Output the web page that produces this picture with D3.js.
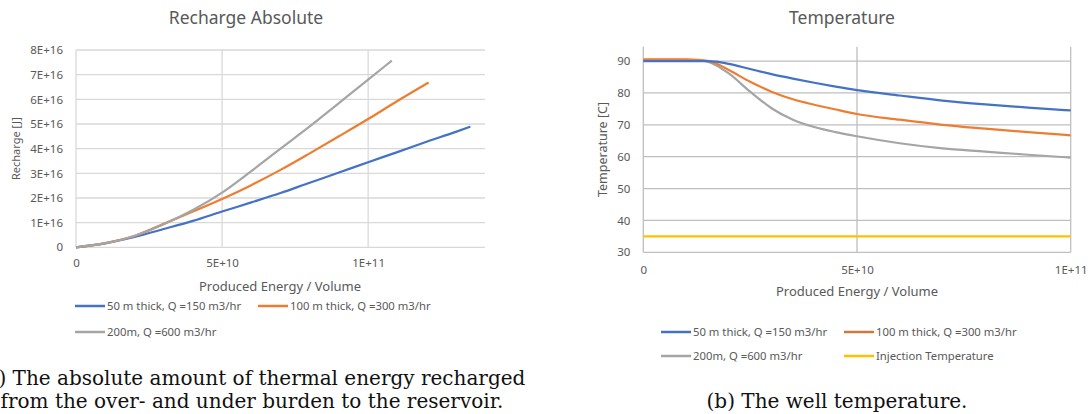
<!DOCTYPE html>
<html>
<head>
<meta charset="utf-8">
<script src="https://cdn.jsdelivr.net/npm/d3@7"></script>
<style>
  body { margin: 0; background: #fff; }
  svg { display: block; font-family: "Noto Sans", sans-serif; }
</style>
</head>
<body>
<svg id="fig" width="1090" height="414"></svg>
<script>
// ---- data ----
const seriesNames = ["50 m thick, Q =150 m3/hr", "100 m thick, Q =300 m3/hr", "200m, Q =600 m3/hr"];
const injectionName = "Injection Temperature";

// (a) recharge [J] vs produced energy / volume
const rechargeX50 = [0, 1e10, 2e10, 3e10, 4e10, 5e10, 6e10, 7e10, 8e10, 9e10, 1e11, 1.1e11, 1.2e11, 1.3e11, 1.35e11];
const rechargeY50 = [0, 0.16e16, 0.42e16, 0.74e16, 1.07e16, 1.45e16, 1.82e16, 2.2e16, 2.62e16, 3.03e16, 3.45e16, 3.86e16, 4.28e16, 4.68e16, 4.89e16];
const rechargeX100 = [0, 1e10, 2e10, 3e10, 4e10, 5e10, 6e10, 7e10, 8e10, 9e10, 1e11, 1.1e11, 1.207e11];
const rechargeY100 = [0, 0.17e16, 0.46e16, 0.95e16, 1.45e16, 1.96e16, 2.52e16, 3.14e16, 3.81e16, 4.5e16, 5.2e16, 5.93e16, 6.68e16];
const rechargeX200 = [0, 1e10, 2e10, 3e10, 4e10, 5e10, 6e10, 7e10, 8e10, 9e10, 1e11, 1.081e11];
const rechargeY200 = [0, 0.17e16, 0.46e16, 0.93e16, 1.51e16, 2.22e16, 3.09e16, 4.0e16, 4.9e16, 5.85e16, 6.8e16, 7.57e16];

// (b) well temperature [C]
const tempX = [0, 0.5e10, 1e10, 1.3e10, 1.5e10, 1.7e10, 2e10, 2.5e10, 3e10, 3.5e10, 4e10, 4.5e10, 5e10, 6e10, 7e10, 8e10, 9e10, 1e11];
const temp50 = [90, 90, 90, 90, 90, 89.8, 89.1, 87.5, 85.9, 84.5, 83.2, 82, 80.9, 79.2, 77.6, 76.4, 75.4, 74.5];
const temp100 = [90.5, 90.5, 90.5, 90.4, 90.1, 89.2, 87.2, 83.5, 80.4, 78, 76.3, 74.8, 73.4, 71.6, 70, 68.8, 67.7, 66.7];
const temp200 = [90.4, 90.4, 90.4, 90.2, 89.8, 88.7, 86.1, 80.4, 75.2, 71.6, 69.3, 67.7, 66.4, 64.2, 62.6, 61.6, 60.6, 59.7];
const tempInjection = [35, 35, 35, 35, 35, 35, 35, 35, 35, 35, 35, 35, 35, 35, 35, 35, 35, 35];

const rechargeYTicks = [0, 1e16, 2e16, 3e16, 4e16, 5e16, 6e16, 7e16, 8e16];
const rechargeXTicks = [0, 5e10, 1e11];
const tempYTicks = [30, 40, 50, 60, 70, 80, 90];
const tempXTicks = [0, 5e10, 1e11];

const colors = ["#4472C4", "#ED7D31", "#A5A5A5", "#FFC000"];
const textColor = "#595959";

const svg = d3.select("#fig");
const sci = d => d === 0 ? "0" : d3.format(".0e")(d).toUpperCase();

function zip(xs, ys) { return xs.map((x, i) => ({ x: x, y: ys[i] })); }

function panel(opt) {
    const g = svg.append("g");
    const x = d3.scaleLinear().domain(opt.xDomain).range([opt.left, opt.right]);
    const y = d3.scaleLinear().domain(opt.yDomain).range([opt.bottom, opt.top]);

    // horizontal grid
    g.selectAll(".hg").data(opt.yTicks).enter().append("line")
        .attr("x1", opt.left).attr("x2", opt.right)
        .attr("y1", d => y(d)).attr("y2", d => y(d))
        .attr("stroke", opt.grid).attr("stroke-width", 1.3);
    // vertical grid
    g.selectAll(".vg").data(opt.xTicks).enter().append("line")
        .attr("x1", d => x(d)).attr("x2", d => x(d))
        .attr("y1", opt.top).attr("y2", opt.bottom)
        .attr("stroke", opt.grid).attr("stroke-width", 1.3);

    // tick labels through d3 axes, axis lines hidden
    const yAxis = g.append("g").attr("transform", `translate(${opt.left},0)`)
        .call(d3.axisLeft(y).tickValues(opt.yTicks).tickFormat(opt.yFormat).tickSize(0).tickPadding(opt.yPad));
    const xAxis = g.append("g").attr("transform", `translate(0,${opt.bottom})`)
        .call(d3.axisBottom(x).tickValues(opt.xTicks).tickFormat(sci).tickSize(0).tickPadding(opt.xPad));
    [yAxis, xAxis].forEach(a => {
        a.select(".domain").remove();
        a.selectAll("text").attr("fill", textColor).style("font-size", "11.5px")
            .style("font-family", "'Noto Sans', sans-serif");
    });

    const line = d3.line().x(d => x(d.x)).y(d => y(d.y)).curve(d3.curveMonotoneX);
    g.selectAll(".series").data(opt.series).enter().append("path")
        .attr("d", d => line(d.values))
        .attr("fill", "none")
        .attr("stroke", d => d.color)
        .attr("stroke-width", 2.2);

    // titles
    g.append("text").attr("x", opt.titleX).attr("y", 24).attr("text-anchor", "middle")
        .attr("fill", textColor).style("font-size", "17.5px").text(opt.title);
    g.append("text").attr("x", opt.xTitleX).attr("y", opt.xTitleY).attr("text-anchor", "middle")
        .attr("fill", textColor).style("font-size", "13px").text("Produced Energy / Volume");
    g.append("text").attr("transform", `translate(${opt.yTitleX},${(opt.top + opt.bottom) / 2}) rotate(-90)`)
        .attr("text-anchor", "middle").attr("fill", textColor)
        .style("font-size", opt.yTitleSize).text(opt.yTitle);

    // legend
    const leg = g.selectAll(".leg").data(opt.legend).enter().append("g")
        .attr("transform", d => `translate(${d.x},${d.y})`);
    leg.append("line").attr("x1", 0).attr("x2", 30).attr("y1", 0).attr("y2", 0)
        .attr("stroke", d => d.color).attr("stroke-width", 2.5);
    leg.append("text").attr("x", 32).attr("y", 4).attr("fill", textColor)
        .style("font-size", "11.3px").text(d => d.name);
}

panel({
    left: 76, right: 485, top: 50, bottom: 247.3,
    xDomain: [0, 1.4e11], yDomain: [0, 8e16],
    xTicks: rechargeXTicks, yTicks: rechargeYTicks, yFormat: sci,
    yPad: 13, xPad: 12, grid: "#d9d9d9",
    title: "Recharge Absolute", titleX: 246,
    xTitleX: 280, xTitleY: 291, yTitle: "Recharge [J]", yTitleX: 20, yTitleSize: "11px",
    series: [
        { color: colors[0], values: zip(rechargeX50, rechargeY50) },
        { color: colors[1], values: zip(rechargeX100, rechargeY100) },
        { color: colors[2], values: zip(rechargeX200, rechargeY200) }
    ],
    legend: [
        { name: seriesNames[0], color: colors[0], x: 75, y: 306 },
        { name: seriesNames[1], color: colors[1], x: 258, y: 306 },
        { name: seriesNames[2], color: colors[2], x: 75, y: 332 }
    ]
});

panel({
    left: 643.3, right: 1070.7, top: 46.7, bottom: 252.3,
    xDomain: [0, 1e11], yDomain: [30, 94.5],
    xTicks: tempXTicks, yTicks: tempYTicks, yFormat: d => d,
    yPad: 13, xPad: 14, grid: "#bfbfbf",
    title: "Temperature", titleX: 842,
    xTitleX: 857, xTitleY: 296, yTitle: "Temperature [C]", yTitleX: 607, yTitleSize: "12.5px",
    series: [
        { color: colors[3], values: zip(tempX, tempInjection) },
        { color: colors[2], values: zip(tempX, temp200) },
        { color: colors[1], values: zip(tempX, temp100) },
        { color: colors[0], values: zip(tempX, temp50) }
    ],
    legend: [
        { name: seriesNames[0], color: colors[0], x: 661, y: 332 },
        { name: seriesNames[1], color: "#D0783A", x: 844, y: 332 },
        { name: seriesNames[2], color: colors[2], x: 661, y: 356 },
        { name: injectionName, color: colors[3], x: 844, y: 356 }
    ]
});

// captions
const cap = svg.append("g").attr("fill", "#111")
    .style("font-family", "'DejaVu Serif', 'Liberation Serif', serif").style("font-size", "20px");
cap.append("text").attr("x", 252).attr("y", 385).attr("text-anchor", "middle")
    .text("(a) The absolute amount of thermal energy recharged");
cap.append("text").attr("x", 252).attr("y", 408).attr("text-anchor", "middle")
    .text("from the over- and under burden to the reservoir.");
cap.append("text").attr("x", 837).attr("y", 408).attr("text-anchor", "middle")
    .text("(b) The well temperature.");
</script>
</body>
</html>
